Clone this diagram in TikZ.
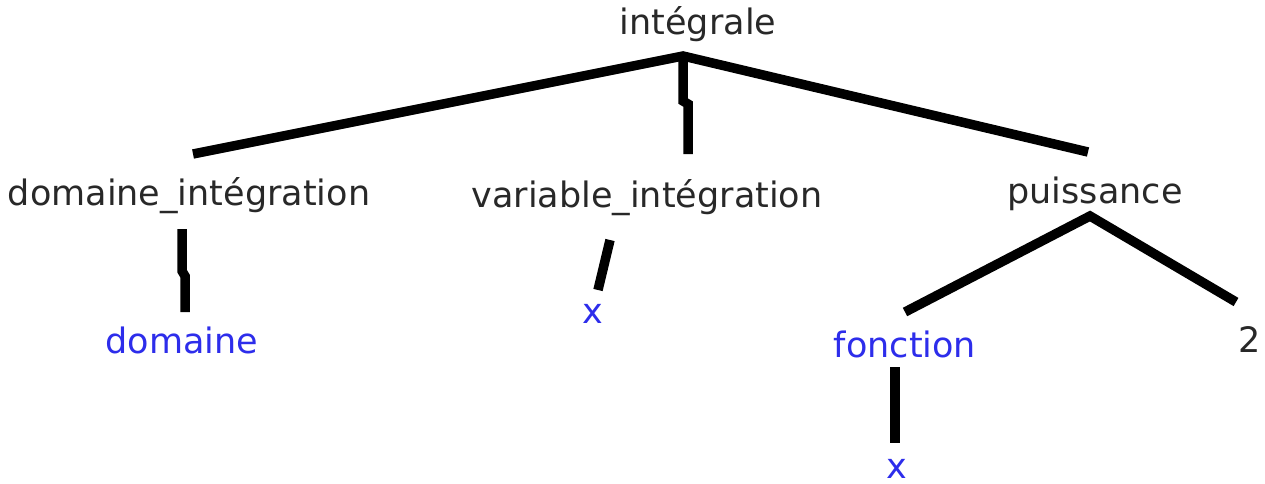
\documentclass[tikz,border=0pt]{standalone}
\usepackage{fontspec}
\setmainfont{DejaVu Sans}
\definecolor{leafblue}{RGB}{45,45,235}
\definecolor{textgray}{RGB}{40,40,40}
\begin{document}
\begin{tikzpicture}[x=1pt,y=-1pt,
  lbl/.style={font=\fontsize{35}{42}\selectfont, inner sep=0pt, anchor=base, text=textgray},
  leaf/.style={lbl, text=leafblue},
  edge/.style={line width=9.5pt, black}]
\useasboundingbox (0,0) rectangle (1265,484);
% nodes
\node[lbl]  (int)  at (698,35)  {intégrale};
\node[lbl]  (dom)  at (189,205) {domaine\_intégration};
\node[lbl]  (var)  at (647,207) {variable\_intégration};
\node[lbl]  (pui)  at (1095,203) {puissance};
\node[leaf] (domv) at (182,353) {domaine};
\node[leaf] (x1)   at (593,323) {x};
\node[leaf] (fon)  at (905,357) {fonction};
\node[lbl]  (two)  at (1250,352) {2};
\node[leaf] (x2)   at (897,478) {x};
% connector ends
\coordinate (intA) at (683,56);
\coordinate (domT) at (193,154);
\coordinate (varT) at (688,154);
\coordinate (puiT) at (1088,152);
\coordinate (domB) at (182,229);
\coordinate (domvT) at (185,312);
\coordinate (varB) at (610,240);
\coordinate (x1T) at (598,290);
\coordinate (puiA) at (1090,216);
\coordinate (fonT) at (905,312);
\coordinate (twoT) at (1236,302);
\coordinate (fonB) at (895,367);
\coordinate (x2T) at (895,443);
% connectors
\draw[edge] (domT) -- (intA) -- (puiT);
\draw[edge] (intA) -- ++(0,45) -- ++(5,3) -- (varT);
\draw[edge] (domB) -- ++(0,42) -- ++(3,5) -- (domvT);
\draw[edge] (varB) -- (x1T);
\draw[edge] (fonT) -- (puiA) -- (twoT);
\draw[edge] (fonB) -- (x2T);
\end{tikzpicture}
\end{document}
